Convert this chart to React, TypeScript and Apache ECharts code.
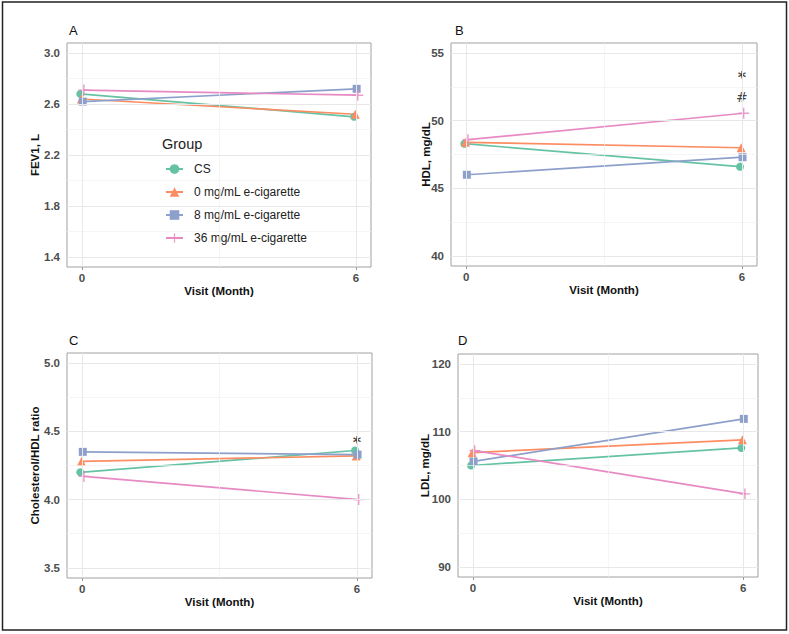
import React, { useEffect, useRef } from 'react';
import * as echarts from 'echarts';

const visits = [0, 6];
const groups = ['CS', '0 mg/mL e-cigarette', '8 mg/mL e-cigarette', '36 mg/mL e-cigarette'];
const colors = ['#66C2A5', '#FC8D62', '#8DA0CB', '#E78AC3'];
const dodge = [-0.04, -0.015, 0.015, 0.04];

const fev1 = [[2.68, 2.50], [2.64, 2.52], [2.62, 2.72], [2.71, 2.67]];
const hdl = [[48.3, 46.6], [48.4, 48.0], [46.0, 47.3], [48.6, 50.55]];
const ratio = [[4.20, 4.36], [4.28, 4.32], [4.35, 4.33], [4.17, 4.00]];
const ldl = [[105.0, 107.6], [106.9, 108.8], [105.6, 111.9], [107.2, 100.8]];

const xTicks = [0, 6];
const fevTicks = [1.4, 1.8, 2.2, 2.6, 3.0];
const hdlTicks = [40, 45, 50, 55];
const ratioTicks = [3.5, 4.0, 4.5, 5.0];
const ldlTicks = [90, 100, 110, 120];

const hdlNotes: [number, number, string][] = [[6, 53.2, '*'], [6, 51.73, '#']];
const ratioNotes: [number, number, string][] = [[6, 4.42, '*']];

const FONT = 'Liberation Sans, Arial, Helvetica, sans-serif';
const CROSS = 'path://M4.35,0H5.65V10H4.35ZM0,4.35H10V5.65H0Z';
const symbols = ['circle', 'triangle', 'rect', CROSS];
const symbolSizes = [8, 9, 8, 11];

const panels = [
  { letter: 'A', yName: 'FEV1, L', vals: fev1, ticks: fevTicks, min: 1.32, max: 3.08, dec: 1, notes: [] as [number, number, string][], grid: { left: 67, top: 43, width: 304, height: 224 }, nameGap: 26, lx: 69, ly: 32 },
  { letter: 'B', yName: 'HDL, mg/dL', vals: hdl, ticks: hdlTicks, min: 39.25, max: 55.75, dec: 0, notes: hdlNotes, grid: { left: 451, top: 43, width: 306, height: 223 }, nameGap: 19, lx: 455, ly: 32 },
  { letter: 'C', yName: 'Cholesterol/HDL ratio', vals: ratio, ticks: ratioTicks, min: 3.425, max: 5.075, dec: 1, notes: ratioNotes, grid: { left: 67, top: 353, width: 305, height: 225 }, nameGap: 26, lx: 69, ly: 342 },
  { letter: 'D', yName: 'LDL, mg/dL', vals: ldl, ticks: ldlTicks, min: 88.5, max: 121.5, dec: 0, notes: [] as [number, number, string][], grid: { left: 458, top: 354, width: 300, height: 223 }, nameGap: 27, lx: 458, ly: 342 },
];

function buildOption() {
  const grid: any[] = [];
  const xAxis: any[] = [];
  const yAxis: any[] = [];
  const series: any[] = [];
  const graphic: any[] = [];

  const majorStyle = { color: '#e8e8e8', width: 1, type: 'solid' };
  const minorStyle = { color: '#f1f1f1', width: 0.7, type: 'solid' };

  panels.forEach((p, i) => {
    grid.push({ ...p.grid, show: true, borderColor: '#a0a0a0', borderWidth: 1, backgroundColor: '#fff', containLabel: false });
    xAxis.push({
      type: 'value', gridIndex: i, min: -0.33, max: 6.33,
      name: 'Visit (Month)', nameLocation: 'middle', nameGap: 18, nameMoveOverlap: false,
      nameTextStyle: { fontFamily: FONT, fontWeight: 'bold', fontSize: 11.5, color: '#111' },
      axisLine: { show: false },
      axisTick: { show: true, customValues: xTicks, length: 3, lineStyle: { color: '#999' } },
      axisLabel: { customValues: xTicks, margin: 5, fontFamily: FONT, fontWeight: 'bold', fontSize: 11.5, color: '#4d4d4d' },
      splitLine: { show: false },
    });
    yAxis.push({
      type: 'value', gridIndex: i, min: p.min, max: p.max,
      name: p.yName, nameLocation: 'middle', nameGap: p.nameGap, nameRotate: 90, nameMoveOverlap: false,
      nameTextStyle: { fontFamily: FONT, fontWeight: 'bold', fontSize: 11.5, color: '#111' },
      axisLine: { show: false },
      axisTick: { show: true, customValues: p.ticks, length: 4, lineStyle: { color: '#999' } },
      axisLabel: { customValues: p.ticks, margin: 7, fontFamily: FONT, fontWeight: 'bold', fontSize: 11.5, color: '#4d4d4d', formatter: (v: number) => v.toFixed(p.dec) },
      splitLine: { show: false },
    });

    const minorY: number[] = [];
    for (let k = 0; k < p.ticks.length - 1; k++) minorY.push((p.ticks[k] + p.ticks[k + 1]) / 2);
    const lines: any[] = [];
    minorY.forEach((v) => lines.push({ yAxis: v, lineStyle: minorStyle }));
    lines.push({ xAxis: (xTicks[0] + xTicks[1]) / 2, lineStyle: minorStyle });
    p.ticks.forEach((v) => lines.push({ yAxis: v, lineStyle: majorStyle }));
    xTicks.forEach((v) => lines.push({ xAxis: v, lineStyle: majorStyle }));
    series.push({
      type: 'line', name: 'grid' + i, xAxisIndex: i, yAxisIndex: i, data: [], z: 1, silent: true,
      markLine: { silent: true, symbol: 'none', label: { show: false }, animation: false, data: lines },
    });

    groups.forEach((g, gi) => {
      series.push({
        type: 'line', name: g, xAxisIndex: i, yAxisIndex: i, z: 3,
        data: visits.map((v, j) => [v + dodge[gi], p.vals[gi][j]]),
        symbol: symbols[gi], symbolSize: symbolSizes[gi], showSymbol: true,
        lineStyle: { color: colors[gi], width: 1.7 },
        itemStyle: { color: colors[gi], opacity: gi === 3 ? 0.85 : 1 },
        emphasis: { disabled: true },
      });
    });

    if (p.notes.length) {
      series.push({
        type: 'scatter', name: 'notes' + i, xAxisIndex: i, yAxisIndex: i, z: 4, silent: true,
        data: p.notes, symbolSize: 1, itemStyle: { color: 'transparent' },
        label: {
          show: true, position: 'inside',
          formatter: (q: any) => (q.data[2] === '*' ? '{star|*}' : '{hash|' + q.data[2] + '}'),
          rich: {
            star: { fontFamily: 'DejaVu Sans, sans-serif', fontSize: 16, fontWeight: 'bold', color: '#111' },
            hash: { fontFamily: 'DejaVu Sans, sans-serif', fontSize: 14, color: '#111' },
          },
        },
      });
    }

    graphic.push({ type: 'text', left: p.lx, top: p.ly - 8, z: 100, style: { text: p.letter, fontFamily: FONT, fontSize: 13, fill: '#111' } });
  });

  graphic.push({ type: 'text', left: 162, top: 136, z: 100, style: { text: 'Group', fontFamily: FONT, fontSize: 14.5, fill: '#222' } });
  graphic.push({ type: 'rect', z: 100, shape: { x: 2.5, y: 2, width: 784, height: 628 }, style: { fill: 'none', stroke: '#222', lineWidth: 1.5 } });

  return {
    animation: false,
    backgroundColor: '#fff',
    grid, xAxis, yAxis, series, graphic,
    legend: {
      data: groups, orient: 'vertical', left: 151, top: 128,
      padding: [35, 12, 8, 14], backgroundColor: '#fff',
      itemWidth: 17, itemHeight: 12, itemGap: 11,
      selectedMode: false,
      textStyle: { fontFamily: FONT, fontSize: 12, color: '#222', lineHeight: 12, padding: [0, 0, 0, 6] },
    },
  };
}

export default function App() {
  const ref = useRef<HTMLDivElement>(null);
  useEffect(() => {
    const chart = echarts.init(ref.current!, null, { renderer: 'svg' });
    chart.setOption(buildOption() as any);
    return () => chart.dispose();
  }, []);
  return <div ref={ref} style={{ position: 'fixed', left: 0, top: 0, width: 789, height: 634, background: '#fff' }} />;
}
